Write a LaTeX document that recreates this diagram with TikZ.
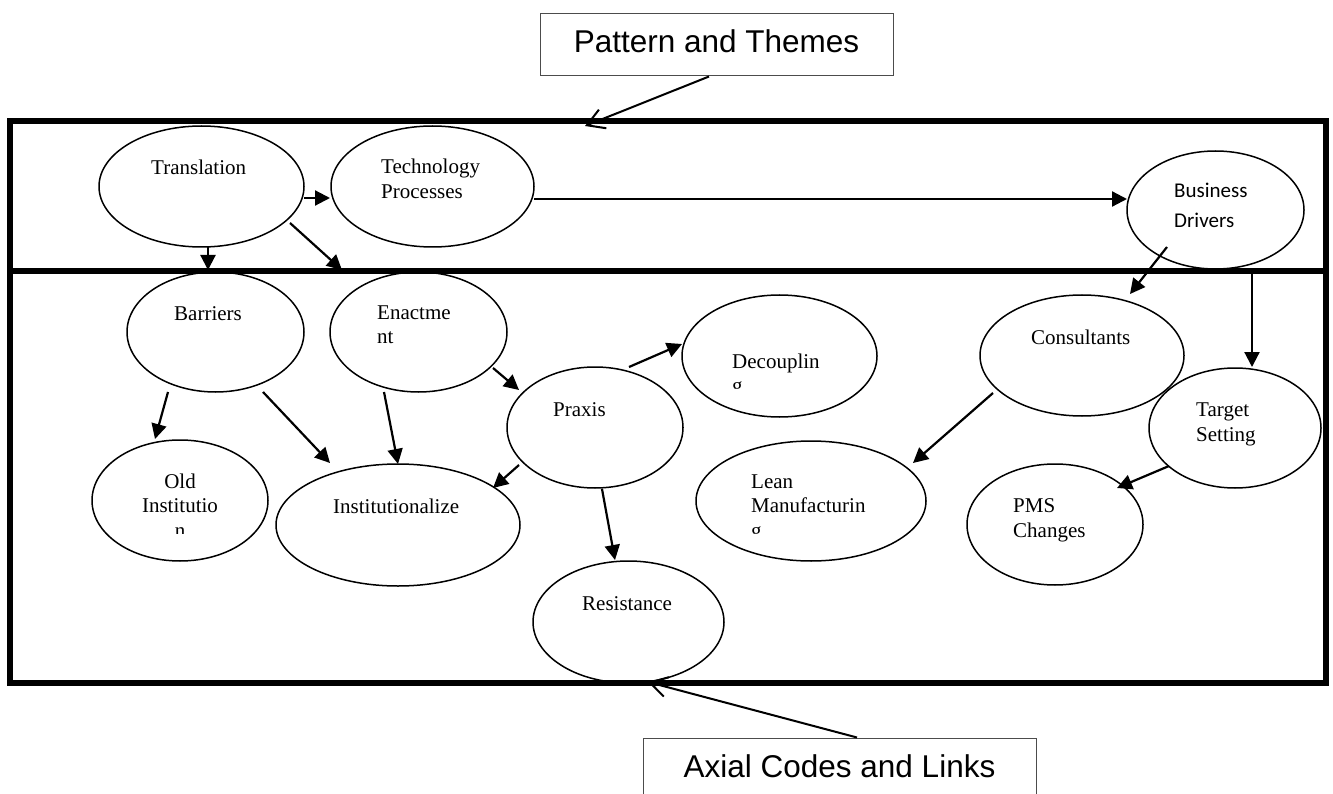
\documentclass[tikz,border=0pt]{standalone}
\usepackage{fontspec}
\setmainfont{Liberation Serif}
\newfontfamily\arialfont{Liberation Sans}
\newfontfamily\calibrifont{Carlito}
\usetikzlibrary{shapes.geometric,arrows.meta}
\begin{document}
\begin{tikzpicture}[x=1pt,y=-1pt,
  oval/.style={draw,ellipse,line width=1.5pt,inner sep=0pt},
  % multi-line labels are placed by the baseline of their last line
  lbl/.style={inner sep=0pt,anchor=base west,align=left,font=\fontsize{21}{24.5}\selectfont},
  arr/.style={line width=2.2pt,-{Triangle[length=15pt,width=15pt]}},
  frame/.style={line width=5.5pt},
  tag/.style={draw=black!70,line width=1pt,inner xsep=0pt,inner ysep=0pt,text height=39pt,anchor=base,font=\arialfont\fontsize{31.5}{36}\selectfont},
  pointer/.style={line width=2pt,-{Straight Barb[length=17pt,width=20pt]}}
]
\useasboundingbox (0,0) rectangle (1333,794);

% outer frame with its two bands
\draw[frame] (10,121) rectangle (1326,683);
\draw[frame] (10,271) -- (1326,271);

% concept ellipses
\node[oval,minimum width=205pt,minimum height=121pt] (tr)   at (201.5,186.5) {};
\node[oval,minimum width=203pt,minimum height=121pt] (tech) at (432.5,186.5) {};
\node[oval,minimum width=177pt,minimum height=118pt] (bus)  at (1215.5,210) {};
\node[oval,minimum width=177pt,minimum height=120pt] (bar)  at (215.5,332) {};
\node[oval,minimum width=177pt,minimum height=120pt] (en)   at (418.5,332) {};
\node[oval,minimum width=176pt,minimum height=121pt] (old)  at (180,500.5) {};
\node[oval,minimum width=244pt,minimum height=122pt] (inst) at (398,525) {};
\node[oval,minimum width=176pt,minimum height=121pt] (prax) at (595,427.5) {};
\node[oval,minimum width=195pt,minimum height=122pt] (dec)  at (779.5,356) {};
\node[oval,minimum width=230pt,minimum height=120pt] (lean) at (811,501) {};
\node[oval,minimum width=191pt,minimum height=122pt] (res)  at (628.5,622) {};
\node[oval,minimum width=204pt,minimum height=121pt] (cons) at (1082,355.5) {};
\node[oval,minimum width=172pt,minimum height=120pt] (targ) at (1235,428) {};
\node[oval,minimum width=176pt,minimum height=121pt] (pms)  at (1055,524.5) {};

% labels inside the ellipses
\node[lbl] (trT)   at (151,175) {Translation};
\node[lbl] (techT) at (381,198.5) {Technology\\Processes};
\node[lbl,font=\calibrifont\fontsize{21}{30}\selectfont] (busT) at (1174,228) {Business\\Drivers};
\node[lbl] (barT)  at (174,320) {Barriers};
\node[lbl] (enT)   at (377,343.5) {Enactme\\nt};
\node[lbl] (instT) at (333,513) {Institutionalize};
\node[lbl] (praxT) at (553,416) {Praxis};
\node[lbl] (resT)  at (582,610) {Resistance};
\node[lbl] (consT) at (1031,344) {Consultants};
\node[lbl] (targT) at (1196,441) {Target\\Setting};
\node[lbl] (pmsT)  at (1013,537) {PMS\\Changes};
\begin{scope}
  \clip (100,450) rectangle (260,533);
  \node[lbl,anchor=base,align=center] (oldT) at (180,537) {Old\\Institutio\\n};
\end{scope}
\begin{scope}
  \clip (700,320) rectangle (870,388);
  \node[lbl] (decT) at (732,392.5) {Decouplin\\g};
\end{scope}
\begin{scope}
  \clip (720,450) rectangle (920,533);
  \node[lbl] (leanT) at (751,537) {Lean\\Manufacturin\\g};
\end{scope}

% links between concepts
\draw[arr] ([shift={(102.5,11.5)}]tr.center)   -- ([shift={(-102.5,11.5)}]tech.center);
\draw[arr] ([shift={(101.5,12.5)}]tech.center) -- ([shift={(-88.5,-11)}]bus.center);
\draw[arr] ([shift={(6.5,60.5)}]tr.center)     -- ([shift={(-7.5,-62)}]bar.center);
\draw[arr] ([shift={(88.5,36.5)}]tr.center)    -- ([shift={(-76.5,-62)}]en.center);
\draw[arr] ([shift={(-47.5,60)}]bar.center)    -- ([shift={(-25,-61.5)}]old.center);
\draw[arr] ([shift={(47.5,60)}]bar.center)     -- ([shift={(-68,-62)}]inst.center);
\draw[arr] ([shift={(-34.5,60)}]en.center)     -- ([shift={(0,-61)}]inst.center);
\draw[arr] ([shift={(74.5,36)}]en.center)      -- ([shift={(-76,-37.5)}]prax.center);
\draw[arr] ([shift={(-76,37.5)}]prax.center)   -- ([shift={(95,-37)}]inst.center);
\draw[arr] ([shift={(34,-60.5)}]prax.center)   -- ([shift={(-97.5,-12)}]dec.center);
\draw[arr] ([shift={(7,61.5)}]prax.center)     -- ([shift={(-13.5,-62)}]res.center);
\draw[arr] ([shift={(-48.5,37)}]bus.center)    -- ([shift={(48,-61.5)}]cons.center);
\draw[arr] ([shift={(36.5,64)}]bus.center)     -- ([shift={(17,-61)}]targ.center);
\draw[arr] ([shift={(-89,37.5)}]cons.center)   -- ([shift={(102,-38)}]lean.center);
\draw[arr] ([shift={(-66,38)}]targ.center)     -- ([shift={(62,-36.5)}]pms.center);

% caption boxes pointing at the two bands
\node[tag,minimum width=353pt,text depth=23pt] (pat) at (716.5,53) {Pattern and Themes};
\node[tag,minimum width=393pt,text depth=40pt] (axi) at (839.5,777) {Axial Codes and Links};
\coordinate (patTip) at (585,126);
\coordinate (axiTip) at (648,682);
\draw[pointer] ([xshift=-7.5pt]pat.south) -- (patTip);
\draw[pointer] ([xshift=17.5pt]axi.north) -- (axiTip);
\end{tikzpicture}
\end{document}
